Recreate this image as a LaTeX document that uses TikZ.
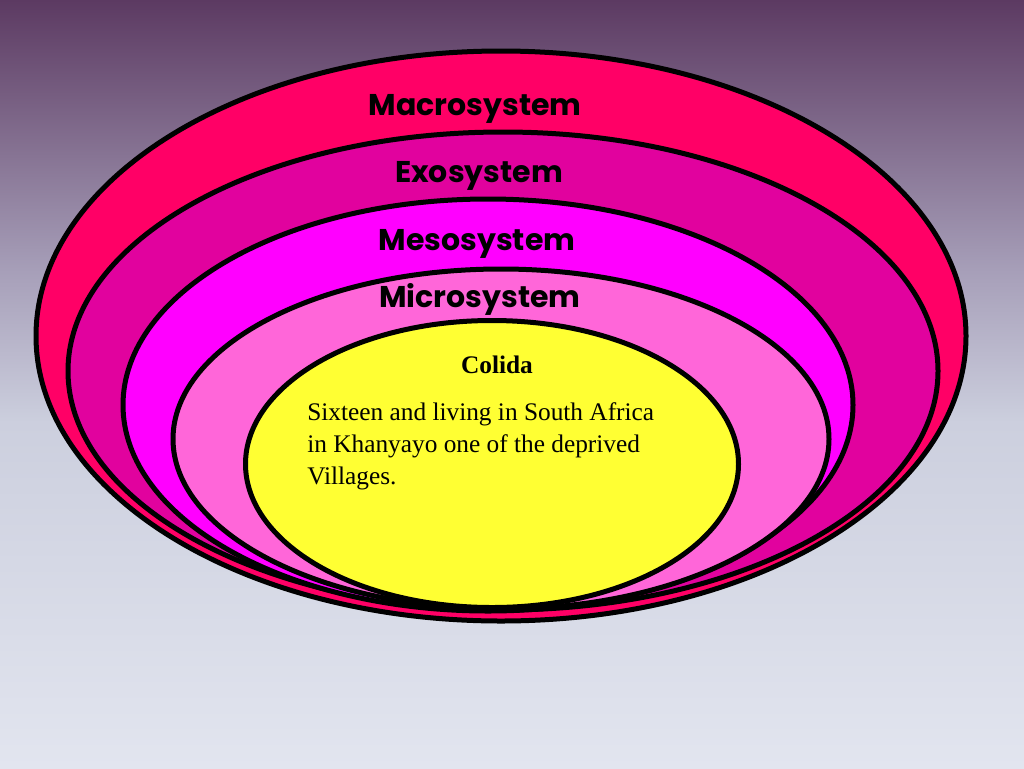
\documentclass[tikz,border=0pt]{standalone}
\usepackage{fontspec}
\setmainfont{Liberation Serif}
\newfontfamily\lblfont{Poppins}
\usetikzlibrary{shapes.geometric}
\definecolor{bgtop}{RGB}{92,58,98}
\definecolor{bgmida}{RGB}{166,158,184}
\definecolor{bgmidb}{RGB}{204,207,222}
\definecolor{bgbot}{RGB}{226,229,239}
\definecolor{macroc}{RGB}{255,0,102}
\definecolor{exoc}{RGB}{225,2,158}
\definecolor{mesoc}{RGB}{255,0,255}
\definecolor{microc}{RGB}{255,102,217}
\definecolor{childc}{RGB}{255,255,51}
\pgfdeclareverticalshading{bgshade}{100bp}{color(0bp)=(bgbot); color(25bp)=(bgbot); color(47.5bp)=(bgmidb); color(57.5bp)=(bgmida); color(75bp)=(bgtop); color(100bp)=(bgtop)}
\begin{document}
\begin{tikzpicture}[x=0.75pt,y=-0.75pt,
  ring/.style={ellipse, draw=black, line width=3.75pt, inner sep=0pt, outer sep=0pt},
  lbl/.style={font=\lblfont\bfseries\fontsize{22.5pt}{27pt}\selectfont, anchor=base, inner sep=0pt},
  bodytxt/.style={font=\fontsize{19pt}{24pt}\selectfont, inner sep=0pt}]
\fill[shading=bgshade] (0,0) rectangle (1024,768);
\useasboundingbox (0,0) rectangle (1024,768);
\node[ring, fill=macroc, minimum width=697.5pt, minimum height=427.5pt] (macro) at (501,336) {};
\node[ring, fill=exoc, minimum width=652.5pt, minimum height=358.5pt] (exo) at (503,371) {};
\node[ring, fill=mesoc, minimum width=547.5pt, minimum height=309pt] (meso) at (488,405) {};
\node[ring, fill=microc, minimum width=492pt, minimum height=255pt] (micro) at (501,439) {};
\node[ring, fill=childc, minimum width=369.75pt, minimum height=215.25pt] (child) at (492,464) {};
\node[lbl] (lmacro) at (475,115) {Macrosystem};
\node[lbl] (lexo) at (479,182) {Exosystem};
\node[lbl] (lmeso) at (477,250) {Mesosystem};
\node[lbl] (lmicro) at (480,307) {Microsystem};
\node[bodytxt, font=\bfseries\fontsize{19pt}{24pt}\selectfont, anchor=base] (name) at (497,373) {Colida};
\node[bodytxt, anchor=north west, align=left] (desc) at (307,402) {Sixteen and living in South Africa\\in Khanyayo one of the deprived\\Villages.};
\end{tikzpicture}
\end{document}
